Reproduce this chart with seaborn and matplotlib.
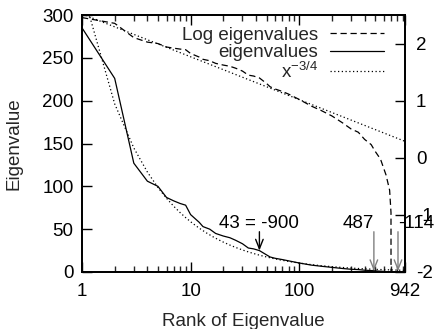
import numpy as np
import pandas as pd
import matplotlib
matplotlib.use("Agg")
import matplotlib.pyplot as plt
import seaborn as sns
from matplotlib.lines import Line2D

# ---------------- data ----------------
ranks = [1, 2, 3, 4, 5, 6, 7, 8, 9, 10, 12, 13, 15, 17, 20, 23, 26, 30, 34, 38,
         43, 50, 54, 60, 70, 80, 100, 130, 160, 200, 250, 300, 350, 400, 460,
         500, 560, 630, 680, 700, 701, 800, 942]
eigenvalues = [285, 226, 127, 106, 100, 87, 83, 80, 78, 67, 58, 53, 50, 45, 42,
               40, 37, 33, 28, 27, 25, 20, 17.5, 16, 14.5, 13, 10.5, 8, 6.7, 5.4,
               4.1, 3.2, 2.8, 2.1, 1.7, 1.3, 0.95, 0.5, 0.27, 0.11, 0.0005,
               0.0005, 0.0005]
fit_coefficient = 330
fit_exponent = -0.75
fit_ranks = np.arange(1, 943)

annot_ranks = [43, 487, 812]
annot_labels = ["43 = -900", "487", "-114"]
annot_tips = [25, 1, 1]
annot_colors = ["black", "#808080", "#808080"]

x_ticks = [1, 10, 100, 942]
x_ticklabels = ["1", "10", "100", "942"]
left_ticks = [0, 50, 100, 150, 200, 250, 300]
right_ticks = [-2, -1, 0, 1, 2]

# -------------- derived frames --------------
eig_df = pd.DataFrame({"rank": ranks, "eig": eigenvalues})
eig_df["logeig"] = np.log10(eig_df["eig"])
fit_df = pd.DataFrame({"rank": fit_ranks,
                       "fit": fit_coefficient * fit_ranks.astype(float) ** fit_exponent})
fit_df["logfit"] = np.log10(fit_df["fit"])

# ---------------- style ----------------
sns.set_theme(style="ticks")
plt.rcParams["font.family"] = ["Liberation Sans", "DejaVu Sans"]
plt.rcParams["mathtext.fontset"] = "custom"
plt.rcParams["mathtext.rm"] = "Liberation Sans"
plt.rcParams["mathtext.it"] = "Liberation Sans"
FS = 13.5
plt.rcParams["font.size"] = FS

fig = plt.figure(figsize=(4.38, 3.29), dpi=100)
ax = fig.add_axes([82/438, 1-272/329, (405-82)/438, (272-15)/329])
ax2 = ax.twinx()

lw = 0.9
sns.lineplot(data=eig_df, x="rank", y="eig", ax=ax, color="black", lw=lw,
             estimator=None, sort=False, legend=False)
sns.lineplot(data=fit_df, x="rank", y="fit", ax=ax, color="black", lw=lw,
             estimator=None, linestyle=(0, (1, 2)), legend=False)
sns.lineplot(data=eig_df, x="rank", y="logeig", ax=ax2, color="black", lw=lw,
             estimator=None, sort=False, linestyle=(0, (5, 3)), legend=False)
sns.lineplot(data=fit_df, x="rank", y="logfit", ax=ax2, color="black", lw=lw,
             estimator=None, linestyle=(0, (1, 2)), legend=False)

ax.set_xscale("log")
ax.set_xlim(1, 942)
ax.set_ylim(0, 300)
ax2.set_ylim(-2, 2.5)

ax.set_xticks(x_ticks)
ax.set_xticklabels(x_ticklabels)
ax.set_yticks(left_ticks)
ax2.set_yticks(right_ticks)
ax2.set_yticklabels([str(t) for t in right_ticks])

for a in (ax, ax2):
    for s in a.spines.values():
        s.set_linewidth(1.3)
        s.set_color("black")

ax.tick_params(axis="x", which="major", direction="in", length=7, width=1,
               top=True, bottom=True, labelsize=FS, pad=8, colors="black")
ax.tick_params(axis="x", which="minor", direction="in", length=4, width=1,
               top=True, bottom=True)
ax.tick_params(axis="y", which="major", direction="in", length=7, width=1,
               left=True, right=False, labelsize=FS, pad=6, colors="black")
ax2.tick_params(axis="y", which="major", direction="in", length=7, width=1,
                left=False, right=True, labelsize=FS, pad=8, colors="black")
ax2.tick_params(axis="y", which="minor", right=False, left=False)
ax.tick_params(axis="y", which="minor", left=False, right=False)

ax.set_xlabel("Rank of Eigenvalue", fontsize=FS, labelpad=9)
ax.set_ylabel("Eigenvalue", fontsize=FS, labelpad=14)
ax2.set_ylabel("")

# annotations
for r, tip, col in zip(annot_ranks, annot_tips, annot_colors):
    ax.annotate("", xy=(r, tip), xytext=(r, 47),
                arrowprops=dict(arrowstyle="->,head_length=0.5,head_width=0.2",
                                color=col, lw=1, shrinkA=0, shrinkB=0))
ha = ["center", "right", "left"]
for r, lab, h in zip(annot_ranks, annot_labels, ha):
    ax.text(r, 46.5, lab, ha=h, va="bottom", fontsize=FS, color="black")

# legend
handles = [Line2D([], [], color="black", lw=lw, linestyle=(0, (5, 3))),
           Line2D([], [], color="black", lw=lw),
           Line2D([], [], color="black", lw=lw, linestyle=(0, (1, 2)))]
labels = ["Log eigenvalues", "eigenvalues", r"x$^{-3/4}$"]
ax2.legend(handles, labels, loc="upper right", bbox_to_anchor=(0.935, 0.955),
           frameon=False, markerfirst=False, handlelength=2.9,
           handletextpad=0.6, labelspacing=0.02, borderpad=0, fontsize=FS,
           borderaxespad=0)

fig.savefig("out.png", dpi=100)
